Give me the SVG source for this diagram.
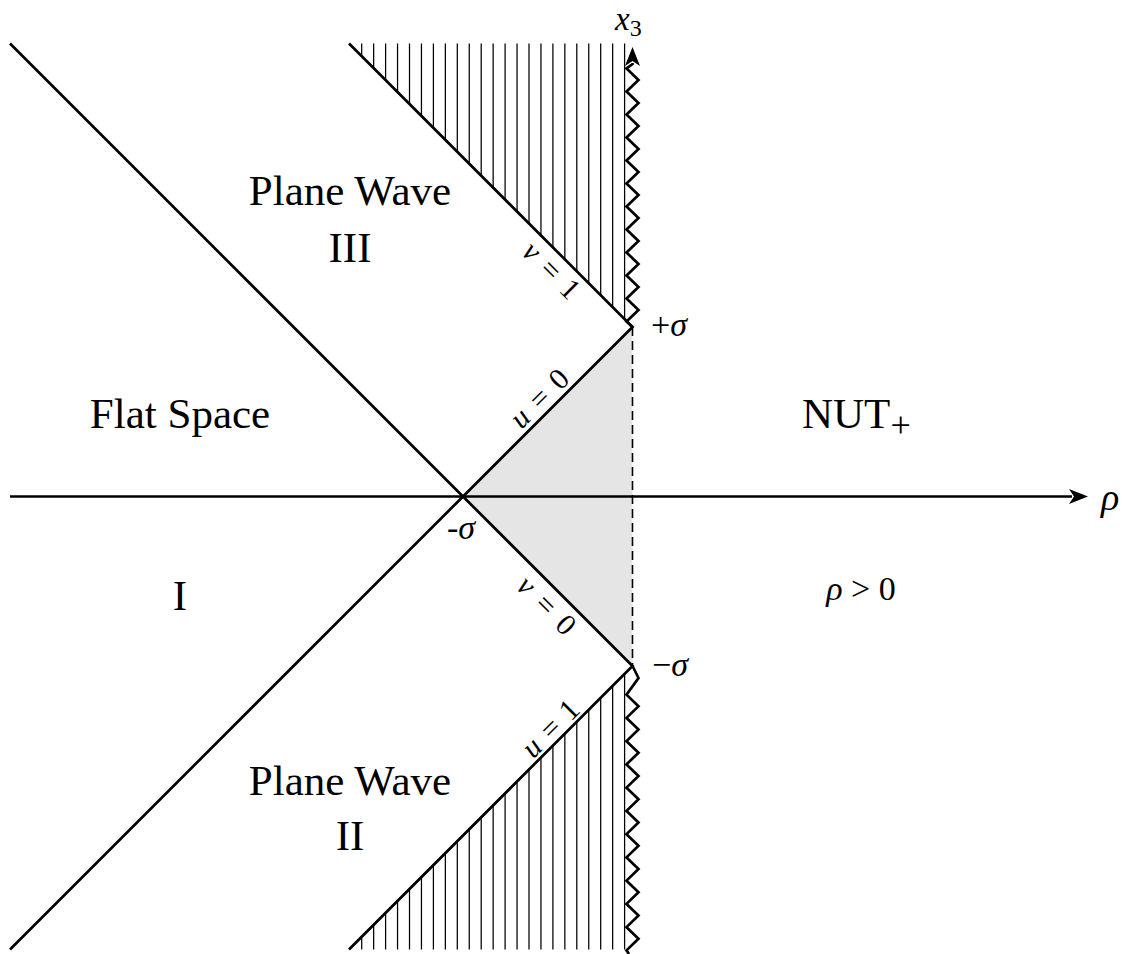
<svg xmlns="http://www.w3.org/2000/svg" width="1133" height="954" viewBox="0 0 1133 954">
<style>
  .t { font-family: "Liberation Serif", "DejaVu Serif", serif; fill: #000; }
  .big { font-size: 43px; }
  .mid { font-size: 34px; }
  .sm { font-size: 30px; }
  .it { font-style: italic; }
  .thick { stroke: #000; stroke-width: 2.7; fill: none; }
  .hatch { stroke: #000; stroke-width: 1.25; fill: none; }
</style>
<defs>
  <marker id="arr" viewBox="-4 -8 22 16" refX="0" refY="0" markerWidth="22" markerHeight="16" markerUnits="userSpaceOnUse" orient="auto" overflow="visible">
    <path d="M-3,-7.5 L16,0 L-3,7.5 L2,0 Z" fill="#000"/>
  </marker>
</defs>
<rect width="1133" height="954" fill="#fff"/>

<g id="shaded">
  <polygon points="463,496.5 632.5,327 632.5,666" fill="#e5e5e5"/>
</g>

<g id="hatching" class="hatch">
  <path d="M361.7,43.5V56.2 M373.65,43.5V68.15 M385.6,43.5V80.1 M397.55,43.5V92.05 M409.5,43.5V104 M421.45,43.5V115.95 M433.4,43.5V127.9 M445.35,43.5V139.85 M457.3,43.5V151.8 M469.25,43.5V163.75 M481.2,43.5V175.7 M493.15,43.5V187.65 M505.1,43.5V199.6 M517.05,43.5V211.55 M529,43.5V223.5 M540.95,43.5V235.45 M552.9,43.5V247.4 M564.85,43.5V259.35 M576.8,43.5V271.3 M588.75,43.5V283.25 M600.7,43.5V295.2 M612.65,43.5V307.15 M624.6,43.5V319.1"/>
  <path d="M361.7,949.5V936.8 M373.65,949.5V924.85 M385.6,949.5V912.9 M397.55,949.5V900.95 M409.5,949.5V889 M421.45,949.5V877.05 M433.4,949.5V865.1 M445.35,949.5V853.15 M457.3,949.5V841.2 M469.25,949.5V829.25 M481.2,949.5V817.3 M493.15,949.5V805.35 M505.1,949.5V793.4 M517.05,949.5V781.45 M529,949.5V769.5 M540.95,949.5V757.55 M552.9,949.5V745.6 M564.85,949.5V733.65 M576.8,949.5V721.7 M588.75,949.5V709.75 M600.7,949.5V697.8 M612.65,949.5V685.85 M624.6,949.5V673.9"/>
</g>

<g id="connectors">
  <line x1="632.5" y1="327" x2="632.5" y2="666" stroke="#000" stroke-width="1.6" stroke-dasharray="9 5"/>
  <path class="thick" d="M10,43.5 L463,496.5 L10,949.5"/>
  <path class="thick" d="M349,43.5 L632.5,327 L463,496.5 L632.5,666 L349,949.5"/>
  <line class="thick" x1="10" y1="496.5" x2="1072" y2="496.5" marker-end="url(#arr)"/>
  <path class="thick" stroke-width="2.5" d="M632.5,327 L626.5,321.5 L638.5,310 L626.5,298.5 L638.5,287 L626.5,275.5 L638.5,264 L626.5,252.5 L638.5,241 L626.5,229.5 L638.5,218 L626.5,206.5 L638.5,195 L626.5,183.5 L638.5,172 L626.5,160.5 L638.5,149 L626.5,137.5 L638.5,126 L626.5,114.5 L638.5,103 L626.5,91.5 L638.5,80 L626.5,68.5 L632.5,64 L632.5,63" marker-end="url(#arr)"/>
  <path class="thick" stroke-width="2.5" d="M632.5,666 L638.5,678 L626.5,694.625 L638.5,706.25 L626.5,717.875 L638.5,729.5 L626.5,741.125 L638.5,752.75 L626.5,764.375 L638.5,776 L626.5,787.625 L638.5,799.25 L626.5,810.875 L638.5,822.5 L626.5,834.125 L638.5,845.75 L626.5,857.375 L638.5,869 L626.5,880.625 L638.5,892.25 L626.5,903.875 L638.5,915.5 L626.5,927.125 L638.5,938.75 L626.5,950.375 L629,954"/>
</g>

<g id="region-plane-wave-III">
  <text class="t big" x="350" y="205" text-anchor="middle">Plane Wave</text>
  <text class="t big" x="350" y="262" text-anchor="middle">III</text>
</g>
<g id="region-flat-space">
  <text class="t big" x="180" y="428" text-anchor="middle">Flat Space</text>
  <text class="t big" x="180" y="610" text-anchor="middle">I</text>
</g>
<g id="region-plane-wave-II">
  <text class="t big" x="350" y="795" text-anchor="middle">Plane Wave</text>
  <text class="t big" x="350" y="850" text-anchor="middle">II</text>
</g>
<g id="region-nut">
  <text class="t big" x="802" y="428">NUT<tspan font-size="36" dy="9">+</tspan></text>
  <text class="t mid" x="861" y="600" text-anchor="middle"><tspan class="it">ρ</tspan> &gt; 0</text>
</g>
<g id="axis-labels">
  <text class="t it" font-size="38" x="1101" y="510">ρ</text>
  <text class="t" font-size="33" x="615" y="30"><tspan class="it">x</tspan><tspan font-size="24" dy="6">3</tspan></text>
  <text class="t mid" x="651" y="336">+<tspan class="it">σ</tspan></text>
  <text class="t mid" x="652" y="676">−<tspan class="it">σ</tspan></text>
  <text class="t mid" x="447" y="539">-<tspan class="it">σ</tspan></text>
</g>
<g id="line-labels">
  <text class="t sm" transform="translate(540,399) rotate(-45)" x="0" y="9" text-anchor="middle" textLength="70" lengthAdjust="spacing"><tspan class="it">u</tspan> = 0</text>
  <text class="t sm" transform="translate(546,606) rotate(45)" x="0" y="9" text-anchor="middle" textLength="70" lengthAdjust="spacing"><tspan class="it">v</tspan> = 0</text>
  <text class="t sm" transform="translate(551,271) rotate(45)" x="0" y="9" text-anchor="middle" textLength="68" lengthAdjust="spacing"><tspan class="it">v</tspan> = 1</text>
  <text class="t sm" transform="translate(551,729) rotate(-45)" x="0" y="9" text-anchor="middle" textLength="68" lengthAdjust="spacing"><tspan class="it">u</tspan> = 1</text>
</g>
</svg>
